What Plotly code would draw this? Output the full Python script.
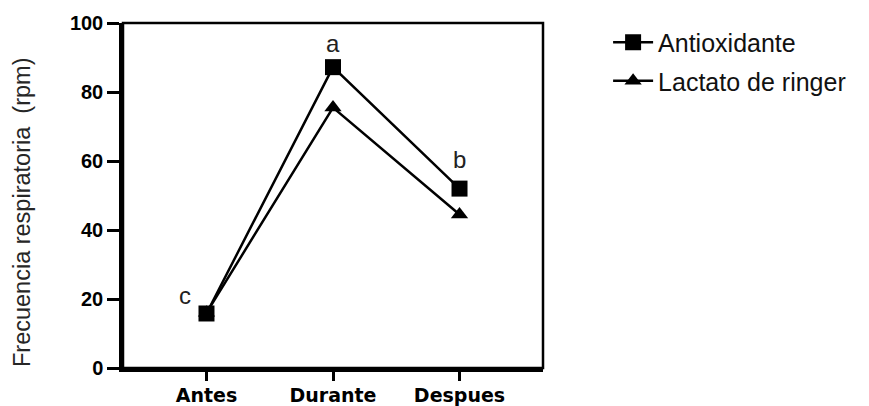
import plotly.graph_objects as go

categories = ["Antes", "Durante", "Despues"]
antioxidante = [15.8, 87.2, 52]
lactato = [16, 75.5, 44.5]
letters = ["c", "a", "b"]
letter_x = [-0.17, 1, 2]
letter_y = [21, 94, 60.5]

FONT = "Liberation Sans, Arial"
TICKFONT = "DejaVu Sans"

fig = go.Figure()
fig.add_trace(go.Scatter(
    x=categories, y=antioxidante, name="Antioxidante", mode="lines+markers",
    line=dict(color="black", width=2.5), legendgroup="a",
    marker=dict(symbol="square", size=16, color="black"),
))
fig.add_trace(go.Scatter(
    x=categories, y=lactato, name="Lactato de ringer", mode="lines+markers",
    line=dict(color="black", width=2.5), legendgroup="b",
    marker=dict(symbol="triangle-up", size=15, color="black"),
))
for xi, yi, t in zip(letter_x, letter_y, letters):
    fig.add_annotation(x=xi, y=yi, text=t, showarrow=False, xref="x", yref="y",
                       font=dict(family=FONT, size=24, color="#222"))

fig.add_annotation(x=-0.2405, y=0.452, xref="paper", yref="paper", textangle=-90,
                   text="Frecuencia respiratoria  (rpm)", showarrow=False,
                   xanchor="center", yanchor="middle",
                   font=dict(family=FONT, size=23.5, color="#262626"))

fig.add_shape(type="rect", xref="x domain", yref="y domain", x0=0, x1=1, y0=0, y1=1,
              line=dict(color="black", width=2.5), layer="below")

fig.update_layout(
    width=861, height=398,
    margin=dict(l=115, r=326, t=15, b=38, autoexpand=False),
    plot_bgcolor="white", paper_bgcolor="white",
    showlegend=True,
    legend=dict(x=1.155, y=1.01, xanchor="left", yanchor="top",
                font=dict(family=FONT, size=25, color="#111"),
                tracegroupgap=3, itemwidth=40),
    font=dict(family=FONT, color="black"),
)
fig.update_xaxes(
    type="category", range=[-0.66, 2.66], showline=True, linecolor="black", linewidth=3.5,
    ticks="outside", ticklen=9, tickwidth=3, tickcolor="black", automargin=False,
    ticklabelstandoff=-2,
    tickfont=dict(family=TICKFONT, size=19, color="black", weight="bold"),
    showgrid=False, zeroline=False,
)
fig.update_yaxes(
    range=[0, 100], dtick=20, showline=True, linecolor="black", linewidth=3.5,
    ticks="outside", ticklen=12, tickwidth=3, tickcolor="black", automargin=False,
    tickfont=dict(family=FONT, size=20, color="black", weight="bold"),
    showgrid=False, zeroline=False,
)
fig.write_html("out.html")
